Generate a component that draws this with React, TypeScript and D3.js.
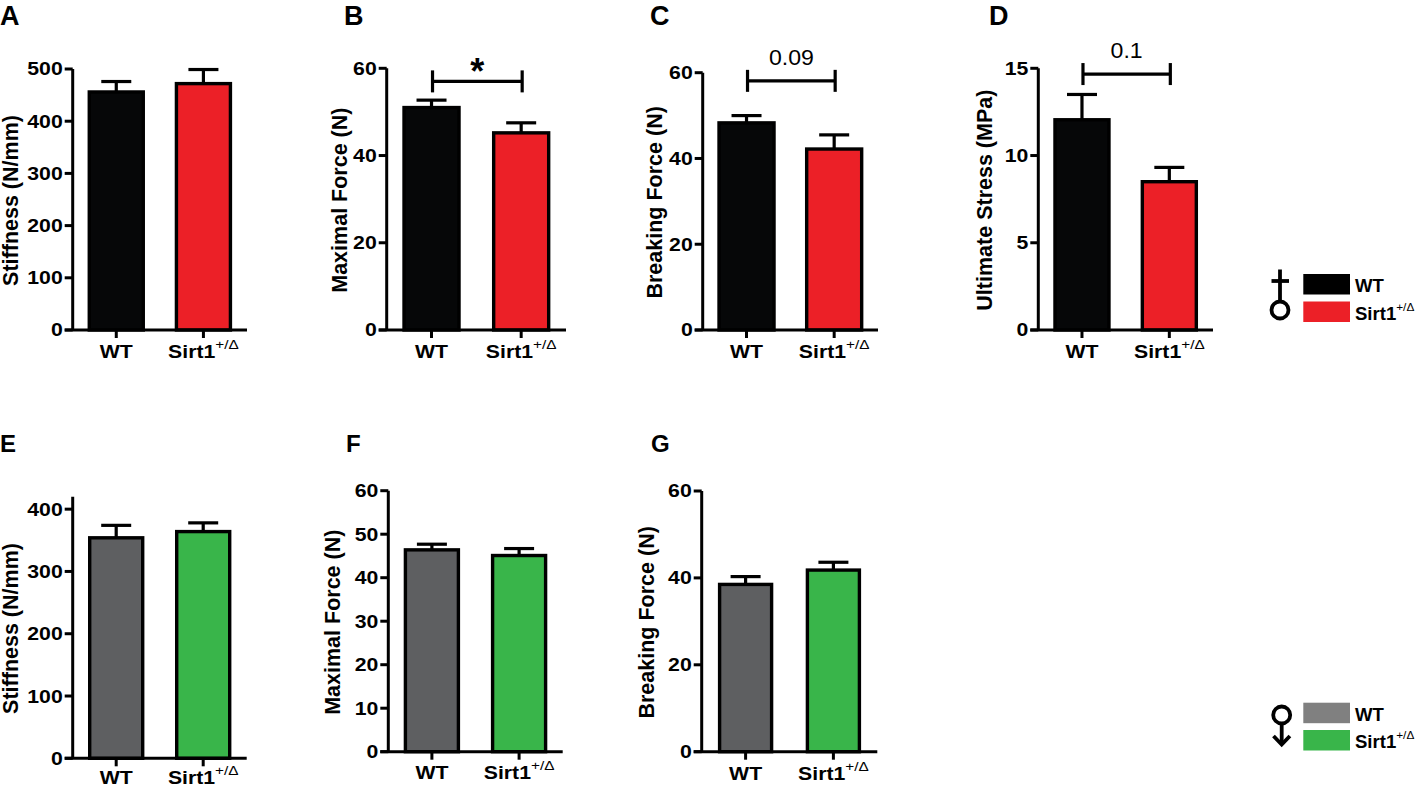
import * as d3 from "d3";

// groups on the x axis of every panel
const groups = ["WT", "Sirt1"];

// male (top row) means and SEM
const maleStiffness = [456, 472];
const maleStiffnessSem = [20, 27];
const maleMaxForce = [51.0, 45.2];
const maleMaxForceSem = [1.7, 2.3];
const maleBreakForce = [48.3, 42.2];
const maleBreakForceSem = [1.7, 3.3];
const maleStress = [12.05, 8.5];
const maleStressSem = [1.45, 0.82];

// female (bottom row) means and SEM
const femaleStiffness = [354, 364];
const femaleStiffnessSem = [20, 14];
const femaleMaxForce = [46.4, 45.1];
const femaleMaxForceSem = [1.3, 1.6];
const femaleBreakForce = [38.5, 41.8];
const femaleBreakForceSem = [1.8, 1.8];

// tick labels
const ticksStiffMale = [0, 100, 200, 300, 400, 500];
const ticks60by20 = [0, 20, 40, 60];
const ticksStress = [0, 5, 10, 15];
const ticksStiffFemale = [0, 100, 200, 300, 400];
const ticks60by10 = [0, 10, 20, 30, 40, 50, 60];

// significance annotations: [label, bracket height in data units]
const sigB: [string, number] = ["*", 57];
const sigC: [string, number] = ["0.09", 58.1];
const sigD: [string, number] = ["0.1", 14.67];

const maleColors = ["#060708", "#ec2027"];
const femaleColors = ["#5e5f61", "#39b54a"];
const legendMale = ["#000000", "#ec2027"];
const legendFemale = ["#808080", "#39b54a"];

const FONT = "'Liberation Sans', Arial, Helvetica, sans-serif";
const SX = 1.18;

type Panel = {
  letter: string;
  letterX: number;
  letterY: number;
  letterSize: number;
  x0: number;
  x1: number;
  yBase: number;
  yTop: number;
  max: number;
  ticks: number[];
  values: number[];
  sem: number[];
  colors: string[];
  label: string;
  labelX: number;
  barW: number;
  xLabelDy: number;
  sig?: [string, number];
};

const panels: Panel[] = [
  { letter: "A", letterX: 0, letterY: 25, letterSize: 27, x0: 72.7, x1: 247, yBase: 330, yTop: 69, max: 500, ticks: ticksStiffMale, values: maleStiffness, sem: maleStiffnessSem, colors: maleColors, label: "Stiffness (N/mm)", labelX: 17.5, barW: 54, xLabelDy: 28 },
  { letter: "B", letterX: 344, letterY: 25, letterSize: 27, x0: 386.7, x1: 566, yBase: 330, yTop: 68.3, max: 60, ticks: ticks60by20, values: maleMaxForce, sem: maleMaxForceSem, colors: maleColors, label: "Maximal Force (N)", labelX: 347, barW: 55, xLabelDy: 28, sig: sigB },
  { letter: "C", letterX: 650, letterY: 25, letterSize: 27, x0: 702.7, x1: 878, yBase: 330, yTop: 72.7, max: 60, ticks: ticks60by20, values: maleBreakForce, sem: maleBreakForceSem, colors: maleColors, label: "Breaking Force (N)", labelX: 662, barW: 55, xLabelDy: 28, sig: sigC },
  { letter: "D", letterX: 989, letterY: 25, letterSize: 27, x0: 1038.3, x1: 1213, yBase: 330, yTop: 68.3, max: 15, ticks: ticksStress, values: maleStress, sem: maleStressSem, colors: maleColors, label: "Ultimate Stress (MPa)", labelX: 992, barW: 54, xLabelDy: 28, sig: sigD },
  { letter: "E", letterX: 0, letterY: 452, letterSize: 24, x0: 72.7, x1: 246.7, yBase: 758.3, yTop: 496.7, max: 420, ticks: ticksStiffFemale, values: femaleStiffness, sem: femaleStiffnessSem, colors: femaleColors, label: "Stiffness (N/mm)", labelX: 17.5, barW: 53, xLabelDy: 25.5 },
  { letter: "F", letterX: 346, letterY: 452, letterSize: 24, x0: 388.3, x1: 562.7, yBase: 751.7, yTop: 490.7, max: 60, ticks: ticks60by10, values: femaleMaxForce, sem: femaleMaxForceSem, colors: femaleColors, label: "Maximal Force (N)", labelX: 340, barW: 53, xLabelDy: 27 },
  { letter: "G", letterX: 651, letterY: 452, letterSize: 24, x0: 701.7, x1: 877.3, yBase: 751.7, yTop: 491, max: 60, ticks: ticks60by20, values: femaleBreakForce, sem: femaleBreakForceSem, colors: femaleColors, label: "Breaking Force (N)", labelX: 654, barW: 52, xLabelDy: 28 },
];

const GroupLabel = ({ name, x, y, size }: { name: string; x: number; y: number; size: number }) => (
  <text
    transform={`translate(${x},${y}) scale(${SX},1)`}
    textAnchor="middle"
    fontSize={size}
    fontWeight="bold"
  >
    {name === "WT" ? (
      "WT"
    ) : (
      <>
        <tspan>{name}</tspan>
        <tspan dy={-9} fontSize={13} fontWeight="normal">
          +/Δ
        </tspan>
      </>
    )}
  </text>
);

const BarPanel = ({ p }: { p: Panel }) => {
  const x = d3.scalePoint<string>().domain(groups).range([p.x0, p.x1]).padding(0.5);
  const y = d3.scaleLinear().domain([0, p.max]).range([p.yBase, p.yTop]);
  const axisW = 3;
  return (
    <g>
      <text x={p.letterX} y={p.letterY} fontSize={p.letterSize} fontWeight="bold">
        {p.letter}
      </text>
      {/* bars */}
      {groups.map((g, i) => {
        const cx = x(g)!;
        const top = y(p.values[i]);
        const errTop = y(p.values[i] + p.sem[i]);
        return (
          <g key={g}>
            <line x1={cx} x2={cx} y1={top} y2={errTop} stroke="#000" strokeWidth={3.2} />
            <line x1={cx - 15} x2={cx + 15} y1={errTop} y2={errTop} stroke="#000" strokeWidth={3.2} />
            <rect
              x={cx - p.barW / 2}
              y={top}
              width={p.barW}
              height={p.yBase - top}
              fill={p.colors[i]}
              stroke="#000"
              strokeWidth={3.4}
            />
          </g>
        );
      })}
      {/* y axis */}
      <line x1={p.x0} x2={p.x0} y1={p.yBase} y2={p.yTop} stroke="#000" strokeWidth={axisW} />
      {p.ticks.map((t) => (
        <g key={t}>
          <line x1={p.x0 - 8} x2={p.x0} y1={y(t)} y2={y(t)} stroke="#000" strokeWidth={axisW} />
          <text
            transform={`translate(${p.x0 - 10},${y(t)}) scale(${SX},1)`}
            textAnchor="end"
            dy="0.36em"
            fontSize={18}
            fontWeight="bold"
          >
            {t}
          </text>
        </g>
      ))}
      {/* x axis */}
      <line x1={p.x0 - 8} x2={p.x1} y1={p.yBase} y2={p.yBase} stroke="#000" strokeWidth={axisW} />
      {groups.map((g) => (
        <g key={g}>
          <line x1={x(g)!} x2={x(g)!} y1={p.yBase} y2={p.yBase + 8} stroke="#000" strokeWidth={axisW} />
          <GroupLabel name={g} x={x(g)!} y={p.yBase + p.xLabelDy} size={18} />
        </g>
      ))}
      {/* y label */}
      <text
        transform={`translate(${p.labelX},${(p.yBase + p.yTop) / 2 + 1}) rotate(-90)`}
        textAnchor="middle"
        fontSize={21.5}
        fontWeight="bold"
      >
        {p.label}
      </text>
      {/* significance bracket */}
      {p.sig && (
        <g stroke="#000" strokeWidth={3.2}>
          <line x1={x("WT")! + 1} x2={x("Sirt1")! + 1} y1={y(p.sig[1])} y2={y(p.sig[1])} />
          <line x1={x("WT")! + 1} x2={x("WT")! + 1} y1={y(p.sig[1]) - 11} y2={y(p.sig[1]) + 11} />
          <line x1={x("Sirt1")! + 1} x2={x("Sirt1")! + 1} y1={y(p.sig[1]) - 11} y2={y(p.sig[1]) + 11} />
          {p.sig[0] === "*" ? (
            <text
              x={(x("WT")! + x("Sirt1")!) / 2 + 1}
              y={y(p.sig[1]) + 3}
              textAnchor="middle"
              fontSize={36}
              fontWeight="bold"
              stroke="none"
            >
              *
            </text>
          ) : (
            <text
              transform={`translate(${(x("WT")! + x("Sirt1")!) / 2 + 1},${y(p.sig[1]) - 16}) scale(1.05,1)`}
              textAnchor="middle"
              fontSize={22}
              stroke="none"
            >
              {p.sig[0]}
            </text>
          )}
        </g>
      )}
    </g>
  );
};

const Legend = ({ colors, top, gap }: { colors: string[]; top: number; gap: number }) => (
  <g>
    {groups.map((g, i) => (
      <g key={g}>
        <rect x={1303.3} y={top + i * gap} width={46.7} height={20.5} fill={colors[i]} />
        <text
          transform={`translate(1355,${top + i * gap + 18.3}) scale(1.03,1)`}
          fontSize={18}
          fontWeight="bold"
        >
          {g === "WT" ? (
            "WT"
          ) : (
            <>
              <tspan>{g}</tspan>
              <tspan dy={-9} fontSize={11.5} fontWeight="normal">
                +/Δ
              </tspan>
            </>
          )}
        </text>
      </g>
    ))}
  </g>
);

export default function App() {
  return (
    <svg
      width={1418}
      height={786}
      style={{ position: "absolute", left: 0, top: 0, background: "#fff" }}
      fontFamily={FONT}
    >
      {panels.map((p) => (
        <BarPanel key={p.letter} p={p} />
      ))}

      {/* top legend with inverted female symbol */}
      <g fill="none" stroke="#000" strokeWidth={3.8}>
        <circle cx={1280} cy={310} r={8.5} />
        <line x1={1280} x2={1280} y1={301.5} y2={269.5} />
        <line x1={1271.5} x2={1289} y1={281} y2={281} />
      </g>
      <Legend colors={legendMale} top={274} gap={27.5} />

      {/* bottom legend with downward male symbol */}
      <g fill="none" stroke="#000" strokeWidth={3.8}>
        <circle cx={1281.7} cy={715} r={8.5} />
        <line x1={1281.7} x2={1281.7} y1={723.5} y2={744} />
        <polyline points="1273.5,736 1281.7,744.5 1289.9,736" />
      </g>
      <Legend colors={legendFemale} top={702.7} gap={27.3} />
    </svg>
  );
}
